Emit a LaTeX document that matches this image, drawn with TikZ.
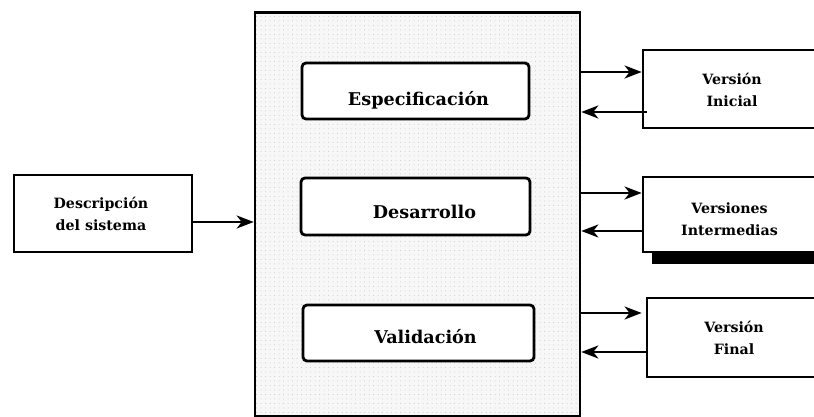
\documentclass[tikz,border=0pt]{standalone}
\usepackage{fontspec}
\setmainfont{DejaVu Serif}
\usetikzlibrary{arrows.meta,patterns.meta}
\begin{document}
\begin{tikzpicture}[x=1pt,y=1pt,
  stagebox/.style={draw,line width=2.8pt,rounded corners=4pt,fill=white,inner sep=0pt},
  sidebox/.style={draw,line width=2.8pt,fill=white,inner sep=0pt},
  bigtxt/.style={font=\fontsize{17.6}{20}\selectfont\bfseries,inner sep=0pt},
  smalltxt/.style={font=\fontsize{14.2}{22}\selectfont\bfseries,align=center,inner sep=0pt},
  arr/.style={line width=2.4pt,-{Stealth[length=17pt,width=13pt,inset=5pt]}}]
\useasboundingbox (0,0) rectangle (814,417);
\begin{scope}
\clip (0,0) rectangle (814,417);
% main container
\node[draw,line width=2.6pt,minimum width=325pt,minimum height=404pt,inner sep=0pt,
  preaction={fill=black!3},pattern={Dots[distance=4.5pt,radius=0.5pt]},pattern color=black!22]
  (main) at (417.5,202.5) {};
% stages
\node[stagebox,minimum width=227pt,minimum height=56pt] (esp) at (415.5,326) {};
\node[stagebox,minimum width=229pt,minimum height=57pt] (des) at (415.5,210.5) {};
\node[stagebox,minimum width=231pt,minimum height=56pt] (val) at (418.5,84) {};
\node[bigtxt] (tesp) at (418.5,317) {Especificación};
\node[bigtxt] (tdes) at (424.5,205) {Desarrollo};
\node[bigtxt] (tval) at (425.5,80) {Validación};
% input
\node[sidebox,minimum width=178pt,minimum height=77pt] (desc) at (103,203.5) {};
\node[smalltxt] (tdesc) at (101,203) {Descripción\\del sistema};
% outputs
\node[sidebox,minimum width=178pt,minimum height=78pt] (vi) at (732,328) {};
\fill (652,153) rectangle (822,165);
\node[sidebox,minimum width=178pt,minimum height=75pt] (vim) at (732,202.5) {};
\node[sidebox,minimum width=174pt,minimum height=79pt] (vf) at (734,79.5) {};
\node[smalltxt] (tvi) at (732,327) {Versión\\Inicial};
\node[smalltxt] (tvim) at (729.5,198) {Versiones\\Intermedias};
\node[smalltxt] (tvf) at (734,79) {Versión\\Final};
% connectors
\draw[arr] ([yshift=-8.5pt]desc.east) -- ([yshift=-8.5pt]desc.east -| main.west);
\draw[arr] ([yshift=17pt]vi.west -| main.east) -- ([yshift=17pt]vi.west);
\draw[arr] ([yshift=-23pt,xshift=5pt]vi.west) -- ([yshift=-23pt]vi.west -| main.east);
\draw[arr] ([yshift=21.5pt]vim.west -| main.east) -- ([yshift=21.5pt]vim.west);
\draw[arr] ([yshift=-16.5pt]vim.west) -- ([yshift=-16.5pt]vim.west -| main.east);
\draw[arr] ([yshift=24.5pt]vf.west -| main.east) -- ([yshift=24.5pt,xshift=-4pt]vf.west);
\draw[arr] ([yshift=-14.5pt]vf.west) -- ([yshift=-14.5pt]vf.west -| main.east);
\end{scope}
\end{tikzpicture}
\end{document}
